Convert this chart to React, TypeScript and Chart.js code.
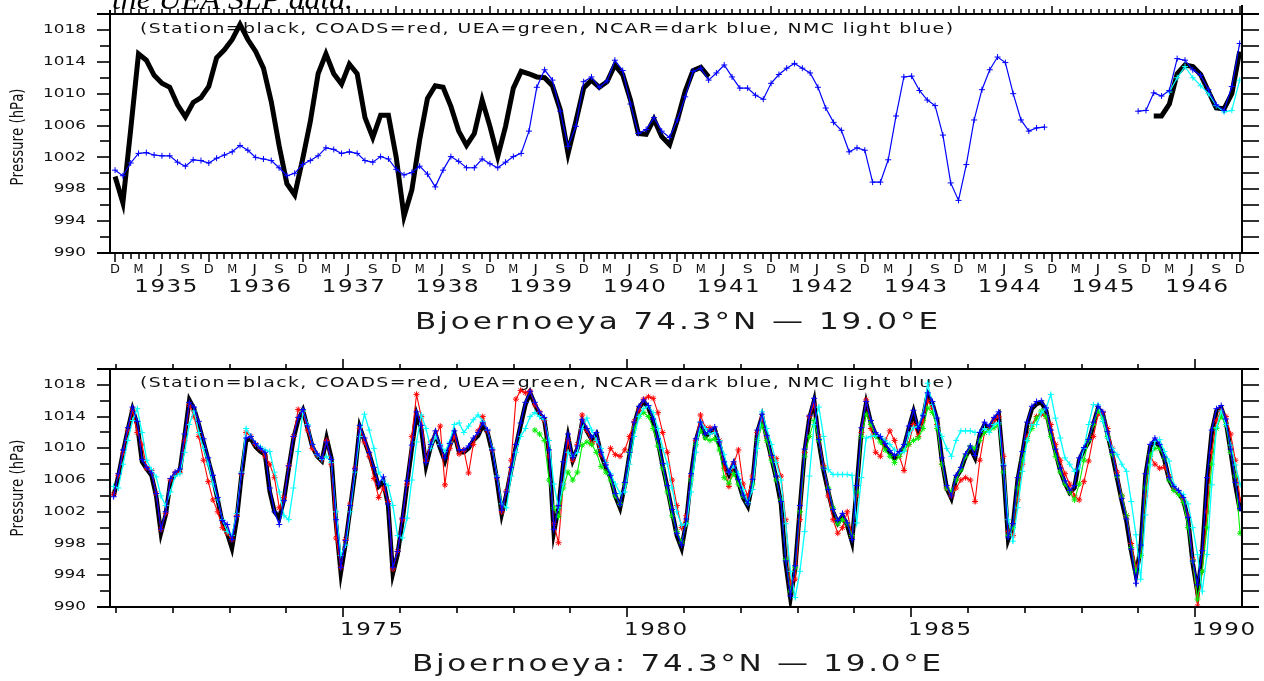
import React, { useEffect, useRef } from 'react';
import { Chart, registerables } from 'chart.js';

Chart.register(...registerables);

// ---------------- TOP PANEL (month index: 0 = Dec 1934 ... 144 = Dec 1946) ----------------
const TOP_MONTH_LETTERS = ['D', 'M', 'J', 'S'];
const TOP_YEARS = [1935, 1936, 1937, 1938, 1939, 1940, 1941, 1942, 1943, 1944, 1945, 1946];

const TOP_STATION_A_START = 0;
const TOP_STATION_A = [
  999.6, 996.3, 1005.5, 1015.0, 1014.2, 1012.3, 1011.3, 1010.8, 1008.6, 1007.1,
  1008.9, 1009.5, 1010.9, 1014.5, 1015.5, 1016.8, 1018.7, 1016.8, 1015.3, 1013.2,
  1009.0, 1003.5, 998.7, 997.3, 1001.7, 1006.5, 1012.5, 1015.0, 1012.5, 1011.2,
  1013.7, 1012.5, 1007.0, 1004.5, 1007.3, 1007.3, 1002.0, 994.6, 997.9, 1004.2,
  1009.4, 1011.0, 1010.8, 1008.4, 1005.3, 1003.5, 1005.0, 1009.2, 1005.9, 1002.1,
  1005.9, 1010.7, 1012.8, 1012.5, 1012.1, 1012.0, 1011.0, 1008.0, 1002.5, 1006.5,
  1010.7, 1011.7, 1010.8, 1011.5, 1013.6, 1012.4, 1009.2, 1005.0, 1004.9, 1006.8,
  1004.6, 1003.6, 1006.7, 1010.3, 1012.9, 1013.3, 1012.1,
];
const TOP_STATION_B_START = 133;
const TOP_STATION_B = [1007.2, 1007.2, 1008.7, 1012.5, 1013.6, 1013.4, 1012.4, 1010.3, 1008.2, 1008.1, 1010.0, 1015.3];

const TOP_NCAR_A_START = 0;
const TOP_NCAR_A = [
  1000.4, 999.7, 1001.3, 1002.5, 1002.6, 1002.3, 1002.2, 1002.2, 1001.4, 1000.9,
  1001.7, 1001.6, 1001.3, 1001.9, 1002.3, 1002.7, 1003.5, 1002.9, 1002.0, 1001.8,
  1001.6, 1000.7, 999.7, 1000.0, 1001.1, 1001.6, 1002.2, 1003.2, 1003.0, 1002.5,
  1002.7, 1002.5, 1001.6, 1001.4, 1002.1, 1001.8, 1000.5, 999.8, 1000.1, 1000.9,
  999.9, 998.3, 1000.4, 1002.1, 1001.5, 1000.7, 1000.7, 1001.8, 1001.2, 1000.7,
  1001.4, 1002.1, 1002.5, 1005.3, 1010.8, 1013.0, 1011.7, 1007.8, 1003.4, 1005.9,
  1011.5, 1012.1, 1010.8, 1011.6, 1014.2, 1012.9, 1008.7, 1005.0, 1005.5, 1007.0,
  1005.3, 1004.5, 1006.7, 1009.6, 1012.8, 1013.2, 1011.7, 1012.6, 1013.6, 1012.1,
  1010.7, 1010.7, 1009.8, 1009.3, 1011.3, 1012.4, 1013.2, 1013.8, 1013.2, 1012.6,
  1010.8, 1008.2, 1006.4, 1005.4, 1002.7, 1003.2, 1002.9, 998.9, 998.9, 1001.7,
  1007.2, 1012.1, 1012.2, 1010.4, 1009.2, 1008.5, 1004.8, 998.8, 996.6, 1001.1,
  1006.7, 1010.5, 1013.0, 1014.6, 1013.9, 1010.0, 1006.7, 1005.3, 1005.7, 1005.8,
];
const TOP_NCAR_B_START = 131;
const TOP_NCAR_B = [1007.8, 1007.9, 1010.1, 1009.7, 1010.4, 1014.4, 1014.2, 1013.0, 1012.3, 1010.5, 1008.6, 1007.9, 1010.9, 1016.3];

const TOP_NMC_START = 135;
const TOP_NMC = [1010.2, 1012.0, 1013.4, 1012.0, 1011.0, 1010.0, 1008.5, 1007.7, 1007.9, 1011.7];

// ---------------- BOTTOM PANEL (month index: 0 = Dec 1970 ... 238 = Oct 1990) ----------------
const BOTTOM_YEAR_LABELS = [1975, 1980, 1985, 1990];

const BOT_STATION = [
  1004.0, 1006.5, 1009.5, 1012.3, 1014.9, 1013.0, 1008.3, 1007.4, 1006.6, 1004.0,
  999.3, 1001.6, 1005.8, 1006.7, 1007.2, 1011.5, 1016.1, 1015.0, 1013.0, 1010.8,
  1008.5, 1006.3, 1003.5, 1000.6, 999.3, 997.4, 1001.0, 1006.5, 1011.0, 1011.2,
  1010.2, 1009.6, 1009.2, 1004.5, 1002.0, 1001.2, 1003.6, 1007.5, 1011.2, 1013.6,
  1014.8, 1012.5, 1010.2, 1009.0, 1008.4, 1011.3, 1008.8, 1000.5, 994.3, 998.0,
  1002.5, 1007.0, 1012.7, 1011.0, 1009.3, 1007.3, 1005.2, 1005.8, 1002.8, 994.2,
  996.6, 1000.8, 1005.5, 1010.0, 1014.3, 1012.5, 1007.8, 1010.2, 1011.8, 1010.0,
  1008.4, 1010.3, 1011.8, 1009.5, 1009.5, 1010.0, 1011.0, 1011.6, 1012.9, 1012.0,
  1009.5, 1006.0, 1001.7, 1004.2, 1007.3, 1010.2, 1012.9, 1015.5, 1017.0, 1015.5,
  1014.3, 1013.6, 1009.5, 999.4, 1002.5, 1008.0, 1011.5, 1008.5, 1010.0, 1013.3,
  1012.2, 1011.1, 1011.8, 1009.2, 1007.6, 1006.3, 1004.0, 1002.5, 1005.4, 1009.2,
  1013.0, 1015.1, 1015.9, 1015.1, 1013.4, 1010.9, 1007.8, 1005.0, 1002.0, 999.0,
  997.4, 1000.8, 1006.5, 1010.9, 1013.0, 1011.5, 1012.0, 1012.4, 1010.5, 1008.0,
  1006.7, 1008.0, 1005.8, 1003.8, 1002.7, 1005.8, 1012.0, 1014.0, 1011.3, 1008.8,
  1006.2, 1003.0, 995.5, 991.1, 994.9, 1002.5, 1009.6, 1013.8, 1016.0, 1010.8,
  1007.2, 1004.5, 1002.0, 1000.6, 1001.5, 1000.3, 998.2, 1005.0, 1012.3, 1015.7,
  1013.2, 1011.7, 1011.2, 1010.3, 1009.4, 1008.8, 1009.3, 1010.2, 1012.5, 1014.6,
  1012.2, 1013.8, 1016.8, 1015.6, 1013.5, 1008.5, 1005.0, 1003.7, 1006.3, 1007.3,
  1009.0, 1010.0, 1008.8, 1011.7, 1013.0, 1012.5, 1013.6, 1014.3, 1007.5, 998.5,
  1000.2, 1006.0, 1009.3, 1013.0, 1015.0, 1015.6, 1015.8, 1014.8, 1012.0, 1009.6,
  1007.2, 1005.6, 1004.4, 1005.0, 1008.5, 1009.8, 1010.8, 1013.0, 1015.1, 1014.3,
  1011.8, 1009.2, 1006.3, 1003.4, 1000.8, 997.0, 994.0, 997.5, 1006.5, 1010.2,
  1011.0, 1010.2, 1008.6, 1006.0, 1004.9, 1004.4, 1003.5, 1001.0, 995.5, 991.8,
  996.8, 1006.0, 1012.0, 1014.7, 1015.1, 1013.4, 1009.6, 1005.4, 1002.1,
];

const BOT_NCAR = [
  1003.9, 1006.8, 1009.8, 1012.6, 1015.2, 1013.4, 1008.6, 1007.6, 1006.9, 1004.3,
  999.8, 1002.0, 1006.2, 1007.0, 1007.4, 1011.8, 1015.8, 1015.2, 1013.4, 1011.2,
  1008.8, 1006.6, 1003.8, 1000.9, 1000.4, 998.5, 1001.4, 1006.8, 1011.3, 1011.5,
  1010.6, 1010.0, 1009.5, 1005.0, 1002.0, 1000.4, 1003.4, 1007.8, 1011.5, 1013.9,
  1014.9, 1012.8, 1010.5, 1009.3, 1008.7, 1010.8, 1008.6, 1001.0, 995.0, 998.4,
  1002.8, 1007.4, 1012.9, 1011.3, 1009.5, 1007.6, 1005.5, 1006.4, 1003.0, 995.0,
  997.0, 1001.2, 1005.9, 1010.4, 1014.6, 1012.9, 1008.2, 1010.5, 1012.2, 1010.3,
  1008.8, 1010.6, 1012.2, 1009.8, 1009.8, 1010.3, 1011.3, 1012.0, 1013.2, 1012.3,
  1009.8, 1006.3, 1002.2, 1004.5, 1007.6, 1010.5, 1013.2, 1015.8, 1017.2, 1015.8,
  1014.6, 1013.9, 1009.8, 999.8, 1002.8, 1008.3, 1011.8, 1008.8, 1010.3, 1013.6,
  1012.5, 1011.4, 1012.0, 1009.5, 1007.9, 1006.6, 1004.3, 1002.9, 1005.7, 1009.5,
  1013.3, 1015.3, 1016.1, 1015.4, 1013.7, 1011.2, 1008.1, 1005.3, 1002.3, 999.3,
  997.8, 1001.1, 1006.8, 1011.2, 1013.3, 1011.8, 1012.3, 1012.7, 1010.8, 1008.3,
  1007.0, 1008.3, 1006.1, 1004.1, 1003.0, 1006.1, 1012.3, 1014.3, 1011.6, 1009.1,
  1006.5, 1003.3, 995.8, 991.4, 995.2, 1002.8, 1009.9, 1014.1, 1016.3, 1011.1,
  1007.5, 1004.8, 1002.3, 1000.9, 1001.8, 1000.6, 998.5, 1005.3, 1012.6, 1015.9,
  1013.5, 1012.0, 1011.5, 1010.6, 1009.7, 1009.1, 1009.6, 1010.5, 1012.8, 1014.8,
  1012.5, 1014.1, 1017.0, 1015.9, 1013.8, 1008.8, 1005.3, 1004.0, 1006.6, 1007.6,
  1009.3, 1010.3, 1009.1, 1012.0, 1013.3, 1012.8, 1013.9, 1014.6, 1007.8, 998.8,
  1000.5, 1006.3, 1009.6, 1013.3, 1015.3, 1015.9, 1016.0, 1015.1, 1012.3, 1009.9,
  1007.5, 1005.9, 1004.7, 1005.3, 1008.8, 1010.1, 1011.1, 1013.3, 1015.3, 1014.6,
  1012.1, 1009.5, 1006.6, 1003.7, 1001.1, 997.3, 993.0, 997.8, 1006.8, 1010.5,
  1011.3, 1010.5, 1008.9, 1006.3, 1005.2, 1004.7, 1003.8, 1001.3, 995.8, 992.8,
  997.1, 1006.3, 1012.3, 1015.0, 1015.4, 1013.7, 1009.9, 1005.7, 1002.4,
];

const BOT_NMC = [
  1005.2, 1005.0, 1008.0, 1011.0, 1013.5, 1015.0, 1012.0, 1008.5, 1007.3, 1006.4,
  1004.0, 1002.8, 1004.5, 1006.5, 1006.8, 1009.5, 1013.0, 1014.7, 1012.0, 1010.0,
  1008.0, 1005.5, 1003.5, 1001.0, 999.5, 999.0, 1001.8, 1007.0, 1012.5, 1011.5,
  1010.6, 1010.2, 1009.8, 1009.6, 1007.0, 1004.5, 1001.5, 1001.0, 1005.0, 1009.6,
  1014.7, 1013.0, 1010.5, 1009.2, 1008.6, 1009.0, 1008.2, 1002.0, 996.5, 997.8,
  1002.0, 1007.0, 1011.5, 1014.3, 1012.3, 1010.0, 1007.0, 1006.0, 1005.3, 1002.8,
  999.0, 998.7, 1001.2, 1006.0, 1010.8, 1014.2, 1012.5, 1010.0, 1011.5, 1010.5,
  1009.6, 1010.8, 1013.0, 1013.2, 1012.0, 1012.8, 1013.6, 1014.2, 1013.4, 1012.3,
  1010.0, 1006.5, 1003.0, 1002.5, 1006.5, 1009.5, 1011.5, 1012.5, 1014.0, 1014.5,
  1014.0, 1013.6, 1011.0, 1005.5, 1002.5, 1005.5, 1009.5, 1009.0, 1009.5, 1012.5,
  1013.8, 1012.3, 1011.0, 1010.0, 1008.2, 1006.8, 1005.5, 1004.3, 1004.5, 1008.0,
  1011.5, 1014.0, 1015.0, 1015.3, 1014.5, 1012.5, 1010.0, 1008.0, 1005.0, 1002.0,
  1000.3, 1000.5, 1004.5, 1009.5, 1013.3, 1012.5, 1011.8, 1012.0, 1011.0, 1009.2,
  1007.0, 1007.8, 1006.8, 1004.8, 1003.2, 1004.8, 1010.0, 1014.6, 1012.5, 1010.5,
  1008.2, 1006.0, 1000.5, 994.5, 991.2, 994.5, 999.5, 1006.5, 1013.0, 1015.2,
  1011.5, 1007.3, 1006.7, 1006.7, 1006.7, 1006.7, 1006.6, 1000.6, 1006.3, 1011.3,
  1011.5, 1011.6, 1011.5, 1011.0, 1010.5, 1009.8, 1009.4, 1009.6, 1011.8, 1012.6,
  1012.8, 1014.3, 1018.2, 1015.5, 1012.8, 1011.5, 1010.0, 1009.0, 1011.0, 1012.2,
  1012.2, 1012.2, 1012.0, 1012.0, 1012.5, 1012.0, 1013.0, 1013.2, 1008.0, 1001.0,
  998.3, 1002.5, 1007.1, 1011.0, 1013.0, 1013.0, 1014.5, 1015.0, 1016.8, 1013.8,
  1011.3, 1008.8, 1008.0, 1007.1, 1007.5, 1010.0, 1013.0, 1015.5, 1015.5, 1013.4,
  1011.3, 1010.0, 1009.2, 1008.0, 1007.1, 1003.3, 999.1, 993.5, 1001.6, 1007.9,
  1010.9, 1011.1, 1009.6, 1008.4, 1005.4, 1004.6, 1004.2, 1003.0, 1000.0, 996.6,
  992.0, 996.6, 1005.4, 1012.6, 1014.7, 1013.0, 1010.4, 1007.9, 1005.4,
];

const BOT_COADS = [
  1004.2, 1006.6, 1009.4, 1012.2, 1014.8, 1012.0, 1010.5, 1007.5, 1007.2, 1004.3,
  999.8, 1001.8, 1006.0, 1006.9, 1007.0, 1011.0, 1015.5, 1014.0, 1011.5, 1008.5,
  1005.8, 1003.5, 1002.0, 1000.0, 999.3, 998.5, 1001.5, 1006.8, 1012.0, 1011.5,
  1010.5, 1010.0, 1009.0, 1008.0, 1006.3, 1002.5, 1003.8, 1007.8, 1011.5, 1014.9,
  1014.5, 1012.3, 1010.0, 1009.2, 1008.6, 1011.0, 1008.0, 998.7, 995.0, 998.5,
  1003.0, 1007.5, 1012.5, 1010.8, 1009.0, 1006.2, 1003.8, 1005.0, 1003.3, 994.8,
  997.0, 1001.0, 1005.5, 1011.5, 1016.8, 1014.0, 1008.5, 1010.8, 1011.5, 1012.8,
  1005.4, 1010.0, 1011.5, 1009.3, 1009.8, 1006.9, 1010.5, 1012.2, 1014.0, 1012.2,
  1009.8, 1006.3, 1002.0, 1004.6, 1008.5, 1016.2, 1017.3, 1017.0, 1017.2, 1015.5,
  1014.6, 1013.5, 1009.0, 1000.5, 998.1, 1005.5, 1011.0, 1008.5, 1010.5, 1014.2,
  1012.3, 1010.6, 1011.0, 1009.2, 1008.2, 1010.0, 1009.2, 1009.0, 1009.8, 1011.5,
  1013.4, 1014.8, 1016.2, 1016.5, 1016.3, 1014.5, 1012.0, 1009.5, 1006.0, 1002.8,
  1000.0, 1001.5, 1006.5, 1011.0, 1014.2, 1012.6, 1012.6, 1012.0, 1011.0, 1007.5,
  1005.2, 1008.0, 1009.8, 1005.5, 1004.0, 1006.5, 1012.0, 1013.8, 1011.5, 1009.0,
  1008.7, 1006.5, 1001.0, 993.0, 993.5, 1001.0, 1009.5, 1014.0, 1015.5, 1011.5,
  1007.8, 1004.0, 1001.0, 999.3, 1000.0, 1002.0, 999.0, 1004.0, 1012.0, 1016.1,
  1012.5, 1009.5, 1009.0, 1011.0, 1012.2, 1011.0, 1009.0, 1007.2, 1010.5, 1013.0,
  1011.5, 1013.5, 1016.0, 1015.0, 1013.0, 1008.0, 1005.0, 1004.0, 1005.0, 1006.0,
  1006.3, 1006.0, 1003.3, 1008.5, 1012.0, 1012.5, 1013.5, 1014.0, 1009.0, 999.5,
  999.0, 1003.5, 1008.0, 1011.5, 1013.0, 1014.0, 1014.3, 1014.0, 1013.0, 1010.5,
  1008.5, 1006.8, 1005.5, 1004.0, 1003.5, 1005.8, 1008.4, 1011.5, 1014.3, 1014.5,
  1012.5, 1010.0, 1007.0, 1004.0, 1001.5, 998.0, 995.0, 996.5, 1004.0, 1009.0,
  1008.0, 1007.5, 1007.6, 1006.5, 1005.0, 1004.5, 1003.5, 1001.5, 996.0, 990.1,
  994.5, 1002.0, 1009.5, 1013.5, 1014.8, 1014.0, 1011.8, 1008.5, 1003.5,
];

const BOT_UEA_START = 89;
const BOT_UEA = [
  1012.3,
  1011.8, 1011.0, 1006.0, 1002.5, 1001.4, 1005.0, 1007.0, 1006.0, 1007.0, 1010.4,
  1010.8, 1010.5, 1009.5, 1007.7, 1007.0, 1006.0, 1004.0, 1003.0, 1005.5, 1009.5,
  1012.5, 1014.0, 1014.5, 1014.0, 1012.5, 1010.3, 1007.5, 1004.5, 1001.5, 999.5,
  998.2, 1000.5, 1006.0, 1010.5, 1012.2, 1011.3, 1011.0, 1011.2, 1009.8, 1006.3,
  1005.6, 1006.8, 1005.5, 1004.0, 1003.1, 1005.5, 1011.0, 1012.9, 1011.0, 1008.5,
  1006.0, 1003.5, 996.0, 992.0, 995.0, 1002.0, 1009.0, 1011.5, 1013.5, 1011.0,
  1007.5, 1005.0, 1002.5, 1000.5, 1001.0, 1000.5, 999.0, 1004.5, 1011.5, 1014.3,
  1013.0, 1011.5, 1010.8, 1009.8, 1009.0, 1008.2, 1009.0, 1009.8, 1010.5, 1011.0,
  1011.3, 1012.5, 1015.1, 1014.5, 1012.5, 1008.0, 1005.0, 1004.6, 1006.0, 1007.3,
  1009.0, 1010.2, 1010.0, 1011.0, 1012.0, 1012.3, 1012.6, 1013.0, 1007.0, 999.0,
  1000.0, 1005.0, 1008.5, 1011.0, 1012.5, 1013.8, 1014.7, 1014.0, 1011.5, 1009.0,
  1007.0, 1005.5, 1004.5, 1003.5, 1005.5, 1008.5, 1011.0, 1013.0, 1014.7, 1013.8,
  1011.5, 1009.2, 1006.5, 1004.0, 1001.5, 997.5, 994.5, 996.5, 1005.0, 1009.2,
  1010.0, 1010.0, 1008.8, 1006.0, 1004.7, 1004.2, 1003.2, 1000.0, 995.8, 991.0,
  994.5, 1000.0, 1008.0, 1012.5, 1014.0, 1013.0, 1009.5, 1006.5, 999.3,
];

const Y_MIN = 990;
const Y_MAX = 1020;
const Y_LABELS = [990, 994, 998, 1002, 1006, 1010, 1014, 1018];
const LEGEND_TEXT = '(Station=black, COADS=red, UEA=green, NCAR=dark blue, NMC light blue)';
const TOP_TITLE = 'Bjoernoeya 74.3\u00B0N \u2014 19.0\u00B0E';
const BOTTOM_TITLE = 'Bjoernoeya: 74.3\u00B0N \u2014 19.0\u00B0E';
const Y_TITLE = 'Pressure (hPa)';
const CLIPPED_CAPTION = 'the UEA SLP data.';

// ---------------- helpers ----------------
function toPoints(values: number[], start: number) {
  return values.map((v, i) => ({ x: start + i, y: v }));
}
function joinSegments(segs: { x: number; y: number | null }[][]) {
  const out: any[] = [];
  segs.forEach((s, i) => {
    if (i > 0) out.push({ x: s[0].x - 0.5, y: null });
    out.push(...s);
  });
  return out;
}

// Draws text into a given width: glyphs are widened (up to maxScale), rest goes into letter gaps.
function drawFit(ctx: CanvasRenderingContext2D, text: string, x: number, y: number, width: number, font: string, align: 'left' | 'center' | 'right', color = '#000', maxScale = 1.35) {
  ctx.save();
  ctx.font = font;
  ctx.fillStyle = color;
  ctx.textBaseline = 'middle';
  ctx.textAlign = 'left';
  const chars = Array.from(text);
  const widths = chars.map((c) => ctx.measureText(c).width);
  const natural = widths.reduce((a, b) => a + b, 0);
  const x0 = align === 'left' ? x : align === 'center' ? x - width / 2 : x - width;
  const s = Math.min(width / natural, maxScale);
  const gap = chars.length > 1 ? (width - natural * s) / (chars.length - 1) : 0;
  let cx = x0;
  chars.forEach((c, i) => {
    ctx.save();
    ctx.translate(cx, y);
    ctx.scale(s, 1);
    ctx.fillText(c, 0, 0);
    ctx.restore();
    cx += widths[i] * s + gap;
  });
  ctx.restore();
}

function seg(ctx: CanvasRenderingContext2D, x1: number, y1: number, x2: number, y2: number) {
  ctx.beginPath();
  ctx.moveTo(x1, y1);
  ctx.lineTo(x2, y2);
  ctx.stroke();
}

function drawYAxes(chart: any, titleY: number) {
  const ctx = chart.ctx as CanvasRenderingContext2D;
  const ys = chart.scales.y;
  const { left, right } = chart.chartArea;
  ctx.save();
  ctx.strokeStyle = '#000';
  ctx.lineWidth = 1.6;
  for (let v = Y_MIN; v <= Y_MAX; v += 2) {
    const y = Math.round(ys.getPixelForValue(v));
    const major = (v - Y_MIN) % 4 === 0;
    seg(ctx, left - (major ? 13 : 10), y, left, y);
    seg(ctx, right, y, right + 17, y);
  }
  ctx.restore();
  Y_LABELS.forEach((v) => {
    const y = ys.getPixelForValue(v);
    const t = String(v);
    drawFit(ctx, t, 86, y, 10.75 * t.length, '12px "DejaVu Sans"', 'right', '#111', 1.4);
  });
  ctx.save();
  ctx.translate(19, titleY);
  ctx.rotate(-Math.PI / 2);
  drawFit(ctx, Y_TITLE, 0, 0, 97, '17px "DejaVu Sans"', 'center', '#111');
  ctx.restore();
}

function drawFrame(chart: any, topExt: number, rightExt: number) {
  const ctx = chart.ctx as CanvasRenderingContext2D;
  const { left, right, top, bottom } = chart.chartArea;
  ctx.save();
  ctx.strokeStyle = '#000';
  ctx.lineWidth = 2;
  seg(ctx, 97, top, 1259, top);
  seg(ctx, 97, bottom, 1259, bottom);
  seg(ctx, left, top - topExt, left, bottom);
  seg(ctx, right, top - rightExt, right, bottom);
  ctx.restore();
}

const topPlugin = {
  id: 'topFrame',
  beforeDatasetsDraw(chart: any) {
    drawFit(chart.ctx, LEGEND_TEXT, 140, 29.5, 813, '14px "DejaVu Sans"', 'left', '#111');
  },
  afterDraw(chart: any) {
    const ctx = chart.ctx as CanvasRenderingContext2D;
    const xs = chart.scales.x;
    const { top, bottom } = chart.chartArea;
    drawFrame(chart, 4, 9);
    ctx.save();
    ctx.strokeStyle = '#000';
    ctx.lineWidth = 1.5;
    for (let m = 0; m <= 144; m++) {
      const x = Math.round(xs.getPixelForValue(m));
      const major = m % 12 === 0;
      seg(ctx, x, bottom, x, bottom + (major ? 9 : 6));
      seg(ctx, x, top, x, top - (major ? 8 : 5));
    }
    ctx.restore();
    for (let m = 0; m <= 144; m += 3) {
      const x = xs.getPixelForValue(m);
      const letter = TOP_MONTH_LETTERS[(m / 3) % 4];
      drawFit(ctx, letter, x, 269.5, letter === 'J' ? 7 : 10, '12px "DejaVu Sans"', 'center', '#111');
    }
    TOP_YEARS.forEach((yr, i) => {
      const x = xs.getPixelForValue(i * 12 + 6.5);
      drawFit(ctx, String(yr), x, 287.5, 63, '17px "DejaVu Sans"', 'center', '#111');
    });
    drawYAxes(chart, 137);
    drawFit(ctx, TOP_TITLE, 676.5, 323, 523, '23px "DejaVu Sans"', 'center', '#1a1a1a');
    ctx.save();
    ctx.font = 'italic 30px "Liberation Serif"';
    ctx.fillStyle = '#000';
    ctx.textBaseline = 'alphabetic';
    const w = ctx.measureText(CLIPPED_CAPTION).width;
    ctx.translate(112, 9);
    ctx.scale(241 / w, 1);
    ctx.fillText(CLIPPED_CAPTION, 0, 0);
    ctx.restore();
  },
};

const bottomPlugin = {
  id: 'bottomFrame',
  beforeDatasetsDraw(chart: any) {
    drawFit(chart.ctx, LEGEND_TEXT, 140, 43.5, 813, '14px "DejaVu Sans"', 'left', '#111');
  },
  afterDraw(chart: any) {
    const ctx = chart.ctx as CanvasRenderingContext2D;
    const xs = chart.scales.x;
    const { top, bottom } = chart.chartArea;
    drawFrame(chart, 0, 0);
    ctx.save();
    ctx.strokeStyle = '#000';
    ctx.lineWidth = 1.6;
    for (let yr = 1971; yr <= 1990; yr++) {
      const x = Math.round(xs.getPixelForValue((yr - 1971) * 12 + 0.5));
      const major = yr % 5 === 0;
      seg(ctx, x, bottom, x, bottom + (major ? 10 : 6));
      seg(ctx, x, top, x, top - (major ? 10 : 5));
    }
    ctx.restore();
    BOTTOM_YEAR_LABELS.forEach((yr) => {
      const x = xs.getPixelForValue((yr - 1971) * 12 + 6.5);
      drawFit(ctx, String(yr), x, 291, 63, '17px "DejaVu Sans"', 'center', '#111');
    });
    drawYAxes(chart, 148);
    drawFit(ctx, BOTTOM_TITLE, 676.5, 325, 529, '23px "DejaVu Sans"', 'center', '#1a1a1a');
  },
};

function lineDs(label: string, data: any[], color: string, width: number, style: any, radius: number) {
  return {
    label,
    data,
    borderColor: color,
    backgroundColor: color,
    borderWidth: width,
    pointStyle: style,
    pointRadius: radius,
    pointBorderWidth: 1,
    pointBorderColor: color,
    pointBackgroundColor: color,
    tension: 0,
    spanGaps: false,
    fill: false,
  };
}

function baseOptions(xMin: number, xMax: number, padding: any) {
  return {
    responsive: false,
    animation: false as const,
    devicePixelRatio: 1,
    events: [],
    layout: { padding },
    scales: {
      x: { type: 'linear' as const, min: xMin, max: xMax, display: false },
      y: { type: 'linear' as const, min: Y_MIN, max: Y_MAX, display: false },
    },
    plugins: { legend: { display: false }, tooltip: { enabled: false }, title: { display: false } },
  };
}

export default function App() {
  const topRef = useRef<HTMLCanvasElement>(null);
  const botRef = useRef<HTMLCanvasElement>(null);

  useEffect(() => {
    document.body.style.margin = '0';
    document.body.style.background = '#fff';

    const topChart = new Chart(topRef.current as HTMLCanvasElement, {
      type: 'line',
      data: {
        datasets: [
          lineDs('NCAR', joinSegments([toPoints(TOP_NCAR_A, TOP_NCAR_A_START), toPoints(TOP_NCAR_B, TOP_NCAR_B_START)]), '#0000ff', 1.2, 'cross', 3),
          lineDs('NMC', toPoints(TOP_NMC, TOP_NMC_START), '#00ffff', 1.2, 'cross', 3),
          lineDs('Station', joinSegments([toPoints(TOP_STATION_A, TOP_STATION_A_START), toPoints(TOP_STATION_B, TOP_STATION_B_START)]), '#000000', 5, 'circle', 0),
        ] as any,
      },
      options: baseOptions(-0.65, 144.3, { left: 110, right: 22, top: 14, bottom: 87 }) as any,
      plugins: [topPlugin],
    });

    const botChart = new Chart(botRef.current as HTMLCanvasElement, {
      type: 'line',
      data: {
        datasets: [
          lineDs('NCAR', toPoints(BOT_NCAR, 0), '#0000ff', 1.3, 'cross', 3),
          lineDs('NMC', toPoints(BOT_NMC, 0), '#00ffff', 1.3, 'cross', 3),
          lineDs('UEA', toPoints(BOT_UEA, BOT_UEA_START), '#00ee00', 1.1, 'star', 3),
          lineDs('COADS', toPoints(BOT_COADS, 0), '#ff0000', 1.1, 'star', 3),
          lineDs('Station', toPoints(BOT_STATION, 0), '#000000', 4.5, 'circle', 0),
        ] as any,
      },
      options: baseOptions(-0.76, 238.4, { left: 110, right: 22, top: 29, bottom: 74 }) as any,
      plugins: [bottomPlugin],
    });

    return () => {
      topChart.destroy();
      botChart.destroy();
    };
  }, []);

  return (
    <div style={{ position: 'relative', width: 1264, height: 681, background: '#fff', overflow: 'hidden' }}>
      <canvas ref={topRef} width={1264} height={340} style={{ position: 'absolute', left: 0, top: 0, width: 1264, height: 340, display: 'block' }} />
      <canvas ref={botRef} width={1264} height={341} style={{ position: 'absolute', left: 0, top: 340, width: 1264, height: 341, display: 'block' }} />
    </div>
  );
}
